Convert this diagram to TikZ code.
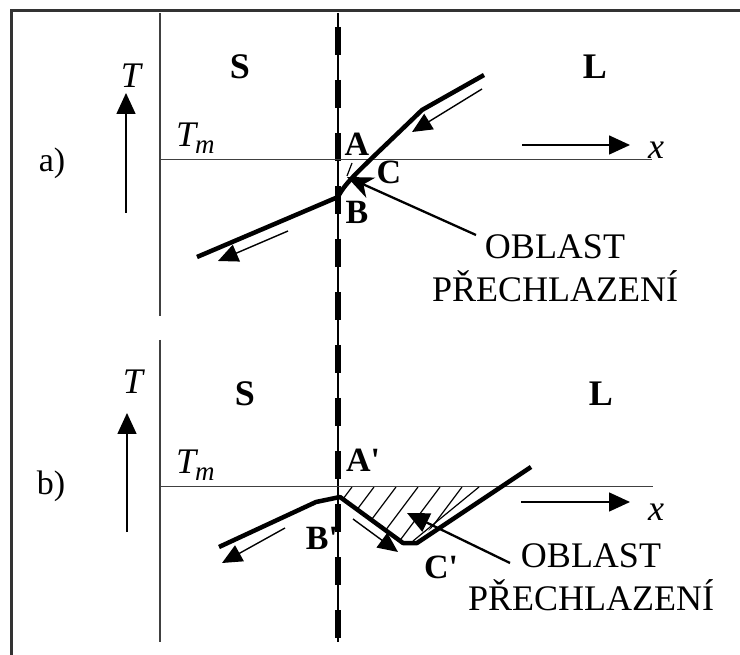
\documentclass[tikz,border=0pt]{standalone}
\usepackage{fontspec}
\setmainfont{Liberation Serif}[Ligatures=TeXOff]
\usetikzlibrary{arrows.meta}
\begin{document}
\begin{tikzpicture}[x=1pt,y=-1pt,
  lbl/.style={inner sep=0pt,font=\fontsize{34}{40}\selectfont\bfseries},
  biglbl/.style={inner sep=0pt,font=\fontsize{36}{42}\selectfont\bfseries},
  itlbl/.style={inner sep=0pt,font=\fontsize{36}{42}\selectfont\itshape},
  plainlbl/.style={inner sep=0pt,font=\fontsize{34}{40}\selectfont},
  note/.style={inner sep=0pt,align=center,font=\fontsize{36}{43}\selectfont},
  frameline/.style={line width=3pt,black!80},
  axisline/.style={line width=1.5pt,black!75},
  dirarrow/.style={line width=1.6pt,-{Triangle[length=21pt,width=19pt]}},
  curveline/.style={line width=4.5pt,line join=round},
  flowarrow/.style={line width=1.4pt,-{Triangle[length=20pt,width=18pt]}},
  pointerA/.style={line width=2.3pt,-{Stealth[length=26pt,width=22pt,inset=8pt]}},
  pointerB/.style={line width=2.3pt,-{Triangle[length=22pt,width=20pt]}},
  hatchline/.style={line width=1.2pt},
  ifaceline/.style={line width=1.5pt},
  ifacedash/.style={line width=6pt,dash pattern=on 28pt off 25pt}
]
\useasboundingbox (0,0) rectangle (740,655);

% frame (top and left edges only)
\coordinate (frTR) at (740,10.5);
\coordinate (frTL) at (11,10.5);
\coordinate (frBL) at (11,655);
\draw[frameline] (frTR) -- (frTL) -- (frBL);

% interface line
\coordinate (ifTop) at (338,13);
\coordinate (ifDashTop) at (338,27);
\coordinate (ifBot) at (338,642);
\draw[ifaceline] (ifTop) -- (ifBot);
\draw[ifacedash] (ifDashTop) -- (ifBot);

% ================= panel a =================
\coordinate (aAxT) at (160,13);
\coordinate (aAxB) at (160,316);
\draw[axisline] (aAxT) -- (aAxB);
\coordinate (aTm0) at (160,159.5);
\coordinate (aTm1) at (652,159.5);
\draw[axisline] (aTm0) -- (aTm1);

\coordinate (aTa0) at (126,213);
\coordinate (aTa1) at (126,93);
\draw[dirarrow] (aTa0) -- (aTa1);
\coordinate (aXa0) at (522,145);
\coordinate (aXa1) at (630,145);
\draw[dirarrow] (aXa0) -- (aXa1);

\node[itlbl] (aT) at (131,76) {T};
\node[itlbl] (ax) at (656,150) {x};
\node[plainlbl] (alab) at (52,163) {a)};
\node[biglbl] (aS) at (240,67) {S};
\node[biglbl] (aLq) at (595,67) {L};
\node[inner sep=0pt,anchor=base west] (aTm) at (176,147)
  {\fontsize{36}{42}\selectfont\itshape T\kern-1pt\raisebox{-7pt}{\fontsize{27}{30}\selectfont m}};
\node[lbl] (aA) at (357,144) {A};
\node[lbl] (aC) at (389,172) {C};
\node[lbl] (aB) at (357,212) {B};

% temperature profile a
\coordinate (aP0) at (197,257);
\coordinate (aPB) at (338,197);
\coordinate (aPk) at (422,110);
\coordinate (aP1) at (484,75);
\draw[curveline] (aP0) -- (aPB) .. controls (346,181) and (360,170) .. (aPk) -- (aP1);

% small hatch in a
\coordinate (aH0) at (352,163);
\coordinate (aH1) at (347,176);
\draw[hatchline] (aH0) -- (aH1);

% flow arrows a
\coordinate (aF0) at (288,231);
\coordinate (aF1) at (218,261);
\draw[flowarrow] (aF0) -- (aF1);
\coordinate (aG0) at (482,89);
\coordinate (aG1) at (412,132);
\draw[flowarrow] (aG0) -- (aG1);

% note a
\node[note] (aNote) at (555,268) {OBLAST\\PŘECHLAZENÍ};
\coordinate (aNp) at (476,235);
\coordinate (aNt) at (347,177);
\draw[pointerA] (aNp) -- (aNt);

% ================= panel b =================
\coordinate (bAxT) at (160,340);
\coordinate (bAxB) at (160,642);
\draw[axisline] (bAxT) -- (bAxB);
\coordinate (bTm0) at (160,486.5);
\coordinate (bTm1) at (653,486.5);
\draw[axisline] (bTm0) -- (bTm1);

\coordinate (bTa0) at (127,532);
\coordinate (bTa1) at (127,413);
\draw[dirarrow] (bTa0) -- (bTa1);
\coordinate (bXa0) at (521,502);
\coordinate (bXa1) at (630,502);
\draw[dirarrow] (bXa0) -- (bXa1);

\node[itlbl] (bT) at (133,382) {T};
\node[itlbl] (bx) at (656,512) {x};
\node[plainlbl] (blab) at (51,486) {b)};
\node[biglbl] (bS) at (245,394) {S};
\node[biglbl] (bLq) at (601,394) {L};
\node[inner sep=0pt,anchor=base west] (bTm) at (176,473)
  {\fontsize{36}{42}\selectfont\itshape T\kern-1pt\raisebox{-7pt}{\fontsize{27}{30}\selectfont m}};
\node[lbl] (bA) at (363,460) {A'};
\node[lbl] (bB) at (322,538) {B'};
\node[lbl] (bC) at (441,567) {C'};

% hatched undercooled region
\begin{scope}
  \clip (340,487) -- (340,498) -- (403,543) -- (414,543) -- (480,487) -- cycle;
  \foreach \hx in {352,374,...,500} {
    \draw[hatchline] (\hx,487) -- ++(-66,88);
  }
\end{scope}
\coordinate (bHb0) at (413,541);
\coordinate (bHb1) at (479,487);
\draw[hatchline] (bHb0) -- (bHb1);

% temperature profile b
\coordinate (bP0) at (219,547);
\coordinate (bPk) at (316,502);
\coordinate (bPB) at (340,497);
\coordinate (bPc0) at (403,543);
\coordinate (bPc1) at (417,543);
\coordinate (bP1) at (531,467);
\draw[curveline] (bP0) -- (bPk) -- (bPB) -- (bPc0) -- (bPc1) -- (bP1);

% flow arrows b
\coordinate (bF0) at (285,528);
\coordinate (bF1) at (222,563);
\draw[flowarrow] (bF0) -- (bF1);
\coordinate (bG0) at (353,519);
\coordinate (bG1) at (398,552);
\draw[flowarrow] (bG0) -- (bG1);

% note b
\node[note] (bNote) at (591,577) {OBLAST\\PŘECHLAZENÍ};
\coordinate (bNp) at (510,563);
\coordinate (bNt) at (407,513);
\draw[pointerB] (bNp) -- (bNt);

\end{tikzpicture}
\end{document}
